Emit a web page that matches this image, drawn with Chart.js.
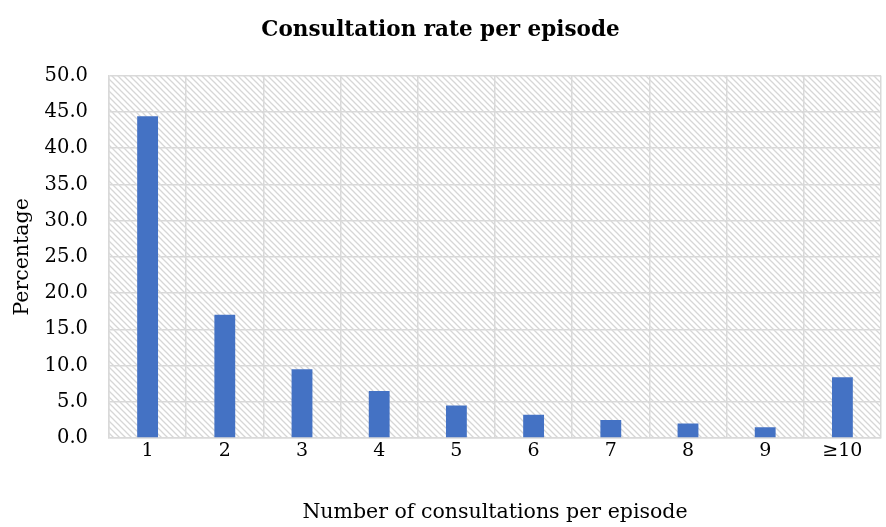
<!DOCTYPE html>
<html>
<head>
<meta charset="utf-8">
<title>Consultation rate per episode</title>
<script src="https://cdn.jsdelivr.net/npm/chart.js"></script>
<style>
  html, body { margin: 0; padding: 0; background: #fff; }
  #wrap { width: 886px; height: 527px; }
</style>
</head>
<body>
<div id="wrap"><canvas id="chart" width="886" height="527"></canvas></div>
<script>
// consultations per episode and share of episodes (%)
const categories = ['1', '2', '3', '4', '5', '6', '7', '8', '9', '≥10'];
const percentages = [44.4, 17.0, 9.5, 6.5, 4.5, 3.2, 2.5, 2.0, 1.5, 8.4];
const yTicks = [0, 5, 10, 15, 20, 25, 30, 35, 40, 45, 50];

const FONT = "'Palatino Linotype', 'Book Antiqua', 'DejaVu Serif', serif";
const GRID = '#d9d9d9';

// diagonal hatch behind the plot area
function makeHatch() {
  const c = document.createElement('canvas');
  c.width = 6;
  c.height = 6;
  const g = c.getContext('2d');
  g.fillStyle = '#ffffff';
  g.fillRect(0, 0, 6, 6);
  g.strokeStyle = '#d6d6d6';
  g.lineWidth = 1.3;
  g.beginPath();
  g.moveTo(-1, -1); g.lineTo(7, 7);
  g.moveTo(-4, 2); g.lineTo(4, 10);
  g.moveTo(2, -4); g.lineTo(10, 4);
  g.stroke();
  return g.createPattern(c, 'repeat');
}

const hatchPlugin = {
  id: 'hatch',
  beforeDraw(chart) {
    const { ctx, chartArea: a } = chart;
    ctx.save();
    ctx.fillStyle = makeHatch();
    ctx.fillRect(a.left, a.top, a.right - a.left, a.bottom - a.top);
    ctx.restore();
  },
};

new Chart(document.getElementById('chart'), {
  type: 'bar',
  data: {
    labels: categories,
    datasets: [{
      data: percentages,
      backgroundColor: '#4472C4',
      borderWidth: 0,
      categoryPercentage: 1,
      barPercentage: 0.27,
    }],
  },
  options: {
    responsive: false,
    animation: false,
    layout: { padding: { left: 0, right: 5, top: 0, bottom: 0 } },
    plugins: {
      legend: { display: false },
      tooltip: { enabled: false },
      title: {
        display: true,
        text: 'Consultation rate per episode',
        color: '#000',
        font: { family: FONT, size: 21.5, weight: 'bold' },
        padding: { top: 18, bottom: 32 },
      },
    },
    scales: {
      x: {
        grid: { color: GRID, lineWidth: 1.5, drawTicks: false, offset: true },
        border: { color: GRID, width: 1.5 },
        ticks: { color: '#000', font: { family: FONT, size: 19 }, padding: 2 },
        title: {
          display: true,
          text: 'Number of consultations per episode',
          color: '#000',
          font: { family: FONT, size: 20.5 },
          padding: { top: 16, bottom: 2 },
        },
        afterFit(scale) { scale.height = 89; },
      },
      y: {
        min: 0,
        max: 50,
        grid: { color: GRID, lineWidth: 1.5, drawTicks: false },
        border: { color: GRID, width: 1.5 },
        afterBuildTicks(scale) { scale.ticks = yTicks.map(v => ({ value: v })); },
        ticks: {
          color: '#000',
          font: { family: FONT, size: 19.5 },
          padding: 21,
          callback: v => v.toFixed(1),
        },
        title: {
          display: true,
          text: 'Percentage',
          color: '#000',
          font: { family: FONT, size: 20.5 },
          padding: { top: 10, bottom: 4 },
        },
        afterFit(scale) { scale.width = 109; },
      },
    },
  },
  plugins: [hatchPlugin],
});
</script>
</body>
</html>
